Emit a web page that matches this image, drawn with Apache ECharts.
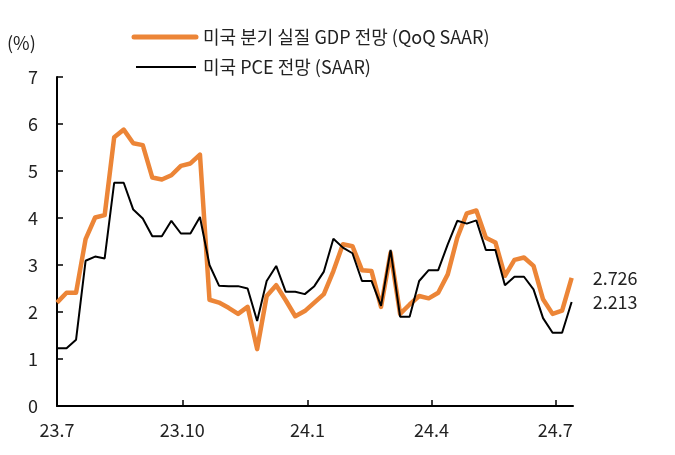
<!DOCTYPE html>
<html>
<head>
<meta charset="utf-8">
<script src="https://cdn.jsdelivr.net/npm/echarts@6/dist/echarts.min.js"></script>
<style>
html,body{margin:0;padding:0;background:#fff;}
#chart{width:675px;height:455px;}
</style>
</head>
<body>
<div id="chart"></div>
<script>
// Weekly observation dates
const dates = [
 '2023-07-01','2023-07-08','2023-07-15','2023-07-22','2023-07-29',
 '2023-08-05','2023-08-12','2023-08-19','2023-08-26',
 '2023-09-02','2023-09-09','2023-09-16','2023-09-23','2023-09-30',
 '2023-10-07','2023-10-14','2023-10-21','2023-10-28',
 '2023-11-04','2023-11-11','2023-11-18','2023-11-25',
 '2023-12-02','2023-12-09','2023-12-16','2023-12-23','2023-12-30',
 '2024-01-06','2024-01-13','2024-01-20','2024-01-27',
 '2024-02-03','2024-02-10','2024-02-17','2024-02-24',
 '2024-03-02','2024-03-09','2024-03-16','2024-03-23','2024-03-30',
 '2024-04-06','2024-04-13','2024-04-20','2024-04-27',
 '2024-05-04','2024-05-11','2024-05-18','2024-05-25',
 '2024-06-01','2024-06-08','2024-06-15','2024-06-22','2024-06-29',
 '2024-07-06','2024-07-13'
];
// 미국 분기 실질 GDP 전망 (QoQ SAAR)
const gdpValues = [
 2.20,2.41,2.41,3.55,4.01,4.06,5.72,5.88,5.59,5.55,4.86,4.82,4.91,5.11,5.16,5.35,
 2.26,2.20,2.09,1.96,2.11,1.21,2.34,2.57,2.25,1.91,2.02,2.20,2.38,2.87,3.44,3.40,
 2.89,2.87,2.11,3.26,1.96,2.16,2.34,2.29,2.41,2.80,3.58,4.10,4.16,3.58,3.48,2.77,
 3.11,3.16,2.98,2.27,1.96,2.03,2.726
];
// 미국 PCE 전망 (SAAR)
const pceValues = [
 1.23,1.23,1.41,3.09,3.18,3.14,4.75,4.75,4.18,3.99,3.61,3.61,3.94,3.67,3.67,4.02,
 3.00,2.56,2.55,2.55,2.50,1.81,2.66,2.98,2.43,2.43,2.38,2.55,2.86,3.56,3.37,3.25,
 2.66,2.66,2.13,3.32,1.90,1.90,2.66,2.89,2.89,3.44,3.94,3.88,3.95,3.32,3.32,2.57,
 2.75,2.75,2.48,1.87,1.56,1.56,2.213
];
const seriesNames = ['미국 분기 실질 GDP 전망 (QoQ SAAR)', '미국 PCE 전망 (SAAR)'];
const seriesColors = ['#EC8537', '#000000'];
const xTickDates = ['2023-07-01','2023-10-01','2024-01-01','2024-04-01','2024-07-01'];
const xTickLabels = ['23.7','23.10','24.1','24.4','24.7'];
const unitLabel = '(%)';

const DAY = 86400000;
const t0 = Date.UTC(2023,6,1);
function dayNum(s){ const p = s.split('-').map(Number); return Math.round((Date.UTC(p[0],p[1]-1,p[2]) - t0)/DAY); }
const tickDays = xTickDates.map(dayNum);
const gdpData = dates.map((d,i)=>[dayNum(d), gdpValues[i]]);
const pceData = dates.map((d,i)=>[dayNum(d), pceValues[i]]);

const FONT = '"Noto Sans CJK KR", "Noto Sans", sans-serif';
const TXT = '#222';
const chart = echarts.init(document.getElementById('chart'));
chart.setOption({
  animation: false,
  backgroundColor: '#fff',
  textStyle: { fontFamily: FONT },
  grid: { left: 57, right: 102, top: 77, bottom: 49, containLabel: false },
  graphic: [
    { type: 'text', left: 7, top: 34,
      style: { text: unitLabel, fill: TXT, font: '18px ' + FONT } },
    { type: 'line', shape: { x1: 134, y1: 37, x2: 196, y2: 37 },
      style: { stroke: seriesColors[0], lineWidth: 5, lineCap: 'round' } },
    { type: 'text', x: 203, y: 37,
      style: { text: seriesNames[0], fill: TXT, font: '18px ' + FONT, textVerticalAlign: 'middle', verticalAlign: 'middle' } },
    { type: 'line', shape: { x1: 136, y1: 67, x2: 196, y2: 67 },
      style: { stroke: seriesColors[1], lineWidth: 2.2 } },
    { type: 'text', x: 203, y: 67,
      style: { text: seriesNames[1], fill: TXT, font: '18px ' + FONT, textVerticalAlign: 'middle', verticalAlign: 'middle' } }
  ],
  xAxis: {
    type: 'value', min: 0, max: 379,
    splitLine: { show: false },
    axisLine: { lineStyle: { color: '#000', width: 2 } },
    axisTick: { show: true, inside: true, length: 6, lineStyle: { color: '#000', width: 1.5 }, customValues: tickDays },
    axisLabel: {
      customValues: tickDays, margin: 15, fontSize: 18, color: TXT, fontFamily: FONT,
      formatter: v => { const i = tickDays.indexOf(v); return i >= 0 ? xTickLabels[i] : ''; }
    }
  },
  yAxis: {
    type: 'value', min: 0, max: 7, interval: 1,
    splitLine: { show: false },
    axisLine: { show: true, lineStyle: { color: '#000', width: 2 } },
    axisTick: { show: true, inside: true, length: 6, lineStyle: { color: '#000', width: 1.5 } },
    axisLabel: { margin: 19, fontSize: 18, color: TXT, fontFamily: FONT }
  },
  series: [
    {
      name: seriesNames[0], type: 'line', data: gdpData, symbol: 'none', showSymbol: false,
      lineStyle: { color: seriesColors[0], width: 4.5, join: 'round' }, itemStyle: { color: seriesColors[0] },
      z: 2,
      endLabel: { show: true, distance: 21, fontSize: 18, color: TXT, fontFamily: FONT,
        formatter: p => p.value[1].toFixed(3) }
    },
    {
      name: seriesNames[1], type: 'line', data: pceData, symbol: 'none', showSymbol: false,
      lineStyle: { color: seriesColors[1], width: 2 }, itemStyle: { color: seriesColors[1] },
      z: 3,
      endLabel: { show: true, distance: 21, fontSize: 18, color: TXT, fontFamily: FONT,
        formatter: p => p.value[1].toFixed(3) }
    }
  ]
});
</script>
</body>
</html>
